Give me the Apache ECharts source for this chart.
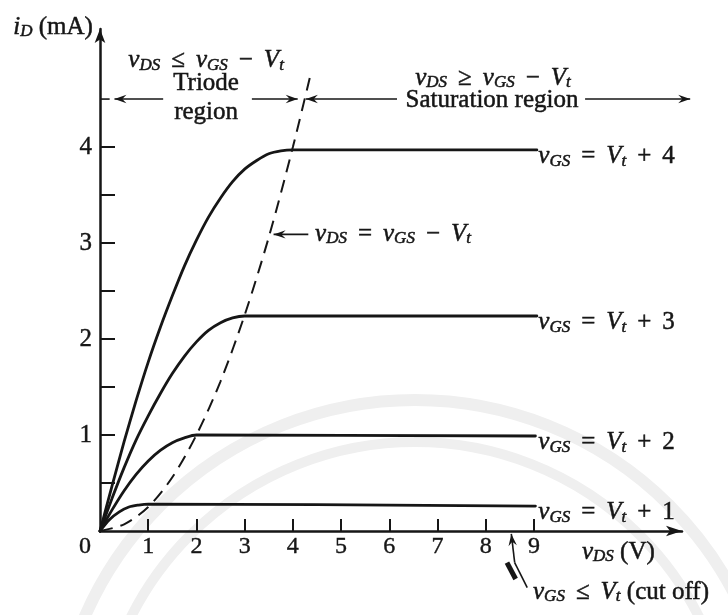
<!DOCTYPE html>
<html>
<head>
<meta charset="utf-8">
<script src="https://cdn.jsdelivr.net/npm/echarts@6/dist/echarts.min.js"></script>
<style>
  html, body { margin: 0; padding: 0; background: #ffffff; }
  #chart { width: 728px; height: 615px; }
</style>
</head>
<body>
<div id="chart"></div>
<script>
// ---- values (v_DS in volts, i_D in mA) ----
const xTickValues = [1, 2, 3, 4, 5, 6, 7, 8, 9];
const xLabelValues = [0, 1, 2, 3, 4, 5, 6, 7, 8, 9];
const yTickValues = [0.5, 1, 1.5, 2, 2.5, 3, 3.5, 4];
const yLabelValues = [1, 2, 3, 4];

// i_D–v_DS characteristic for each gate overdrive
const curveVt4 = [[0, 0], [0.25, 0.47], [0.5, 0.93], [0.75, 1.36], [1, 1.76], [1.25, 2.12], [1.5, 2.45],
  [1.75, 2.76], [2, 3.03], [2.25, 3.27], [2.5, 3.47], [2.75, 3.64], [3, 3.77], [3.25, 3.86],
  [3.5, 3.93], [3.75, 3.96], [4, 3.97], [9.06, 3.97]];
const curveVt3 = [[0, 0], [0.25, 0.34], [0.5, 0.66], [0.75, 0.95], [1, 1.2], [1.25, 1.43], [1.5, 1.64],
  [1.75, 1.82], [2, 1.97], [2.25, 2.09], [2.5, 2.17], [2.75, 2.22], [3, 2.24], [9.06, 2.24]];
const curveVt2 = [[0, 0], [0.25, 0.22], [0.5, 0.42], [0.75, 0.59], [1, 0.73], [1.25, 0.84], [1.5, 0.92],
  [1.75, 0.97], [2, 1.0], [9.03, 0.99]];
const curveVt1 = [[0, 0], [0.2, 0.12], [0.4, 0.2], [0.6, 0.25], [0.8, 0.27], [1, 0.28], [9.03, 0.26]];
// boundary v_DS = v_GS - V_t between triode and saturation
const boundaryCurve = [[0, 0], [0.5, 0.07], [1, 0.25], [1.5, 0.56], [2, 1.0], [2.5, 1.56], [3, 2.25],
  [3.5, 3.06], [4, 4.0], [4.35, 4.72]];
const curveLabels = ['4', '3', '2', '1'];
const curveLevels = [3.97, 2.24, 0.99, 0.26];

// ---- styling ----
const FONT = '"Liberation Serif", "Times New Roman", serif';
const INK = '#161616';
const FS = 25;
// slightly heavier glyphs: outline in the ink colour
const AXIS_HEAVY = { textBorderColor: INK, textBorderWidth: 0.4 };
const TEXT_HEAVY = { stroke: INK, lineWidth: 0.5 };

const rich = {
  i: Object.assign({ fontFamily: FONT, fontStyle: 'italic', fontSize: FS, lineHeight: 26, fill: INK }, TEXT_HEAVY),
  r: Object.assign({ fontFamily: FONT, fontSize: FS, lineHeight: 26, fill: INK }, TEXT_HEAVY),
  o: Object.assign({ fontFamily: FONT, fontSize: FS, lineHeight: 26, fill: INK, padding: [0, 11, 0, 11] }, TEXT_HEAVY),
  s: Object.assign({ fontFamily: FONT, fontStyle: 'italic', fontSize: 17, lineHeight: 10, verticalAlign: 'bottom', fill: INK }, TEXT_HEAVY)
};
const vDS = '{i|v}{s|DS}';
const vGS = '{i|v}{s|GS}';
const Vt = '{i|V}{s|t}';

const chart = echarts.init(document.getElementById('chart'), null, { renderer: 'canvas' });

function curveSeries(data, dashed) {
  return {
    type: 'line',
    data: data,
    symbol: 'none',
    smooth: 0.3,
    silent: true,
    clip: false,
    lineStyle: dashed
      ? { color: INK, width: 2, type: [13, 8] }
      : { color: INK, width: 2.8, cap: 'round' },
    z: 3
  };
}

chart.setOption({
  animation: false,
  backgroundColor: '#ffffff',
  grid: { left: 100, right: 46, top: 29, bottom: 84, containLabel: false, outerBoundsMode: 'none' },
  xAxis: {
    type: 'value', min: 0, max: 12.07,
    axisLine: { show: true, onZero: false, symbol: ['none', 'arrow'], symbolSize: [8, 16],
      lineStyle: { color: INK, width: 2.5 } },
    axisTick: { show: true, inside: true, length: 12, customValues: xTickValues,
      lineStyle: { color: INK, width: 2 } },
    axisLabel: Object.assign({
      customValues: xLabelValues, margin: 4, color: INK, fontFamily: FONT, fontSize: 24,
      formatter: v => (v === 0 ? '{z|0}' : String(v)),
      rich: { z: Object.assign({ fontFamily: FONT, fontSize: 24, color: INK, padding: [0, 30, 0, 0] }, AXIS_HEAVY) }
    }, AXIS_HEAVY),
    splitLine: { show: false }
  },
  yAxis: {
    type: 'value', min: 0, max: 5.23,
    axisLine: { show: true, onZero: false, symbol: ['none', 'arrow'], symbolSize: [8, 14],
      lineStyle: { color: INK, width: 2.5 } },
    axisTick: { show: true, inside: true, length: 15, customValues: yTickValues,
      lineStyle: { color: INK, width: 2 } },
    axisLabel: Object.assign({ customValues: yLabelValues, margin: 8, color: INK, fontFamily: FONT, fontSize: 25 }, AXIS_HEAVY),
    splitLine: { show: false }
  },
  series: [
    curveSeries(curveVt4), curveSeries(curveVt3), curveSeries(curveVt2), curveSeries(curveVt1),
    curveSeries(boundaryCurve, true)
  ]
});

// ---- annotations, anchored in data coordinates ----
const px = p => chart.convertToPixel({ gridIndex: 0 }, p);

function text(p, str, align, vAlign) {
  const q = px(p);
  return { type: 'text', x: q[0], y: q[1], z: 5, silent: true,
    style: { text: str, rich: rich, align: align || 'left', verticalAlign: vAlign || 'middle',
      fontFamily: FONT, fontSize: FS, fill: INK } };
}
function segment(a, b, w, dash) {
  const p = px(a), q = px(b);
  return { type: 'line', z: 5, silent: true,
    shape: { x1: p[0], y1: p[1], x2: q[0], y2: q[1] },
    style: { stroke: INK, lineWidth: w || 1.6, lineDash: dash || null } };
}
function head(fromP, tipP) {
  const a = px(fromP), t = px(tipP);
  const dx = t[0] - a[0], dy = t[1] - a[1], L = Math.hypot(dx, dy);
  const ux = dx / L, uy = dy / L, nx = -uy, ny = ux;
  const len = 12, half = 4.2;
  const bx = t[0] - ux * len, by = t[1] - uy * len;
  return { type: 'polygon', z: 5, silent: true,
    shape: { points: [[t[0], t[1]], [bx + nx * half, by + ny * half],
      [t[0] - ux * len * 0.65, t[1] - uy * len * 0.65], [bx - nx * half, by - ny * half]] },
    style: { fill: INK } };
}
function arrow(fromP, tipP, w) {
  return [segment(fromP, tipP, w), head(fromP, tipP)];
}

const regionLevel = 4.5;
const g = [];

// faint seal printed behind the figure
[[360, 12], [318, 10]].forEach(([r, w]) => {
  g.push({ type: 'circle', z: -5, silent: true, shape: { cx: 415, cy: 760, r: r },
    style: { fill: 'none', stroke: '#efefef', lineWidth: w } });
});

// axis titles
g.push(text([-1.8, 5.25], '{i|i}{s|D}{r| (mA)}', 'left'));
g.push(text([10.75, -0.22], vDS + '{r| (V)}', 'center'));

// triode / saturation region markers
g.push(text([2.2, 4.9], vDS + '{o|≤}' + vGS + '{o|−}' + Vt, 'center'));
g.push(text([2.2, 4.66], '{r|Triode}', 'center'));
g.push(text([2.2, 4.36], '{r|region}', 'center'));
g.push(segment([0, regionLevel], [0.2, regionLevel], 1.6));
g.push(...arrow([1.31, regionLevel], [0.3, regionLevel]));
g.push(...arrow([3.15, regionLevel], [4.1, regionLevel]));
g.push(text([8.15, 4.72], vDS + '{o|≥}' + vGS + '{o|−}' + Vt, 'center'));
g.push(text([8.13, 4.49], '{r|Saturation region}', 'center'));
g.push(...arrow([6.16, regionLevel], [4.27, regionLevel]));
g.push(...arrow([10.06, regionLevel], [12.24, regionLevel]));

// boundary curve callout
g.push(...arrow([4.32, 3.09], [3.6, 3.09]));
g.push(text([4.46, 3.09], vDS + '{o|=}' + vGS + '{o|−}' + Vt, 'left'));

// curve labels
curveLabels.forEach((n, k) => {
  g.push(text([9.09, curveLevels[k] - 0.07], vGS + '{o|=}' + Vt + '{o|+}{r|' + n + '}', 'left'));
});

// cut-off callout
g.push(segment([8.86, -0.59], [8.6, -0.33], 1.6));
g.push(segment([8.44, -0.33], [8.62, -0.5], 5));
g.push(...arrow([8.6, -0.33], [8.53, -0.03], 1.6));
g.push(text([8.98, -0.64], vGS + '{o|≤}' + Vt + '{r| (cut off)}', 'left'));

chart.setOption({ graphic: g });
</script>
</body>
</html>
